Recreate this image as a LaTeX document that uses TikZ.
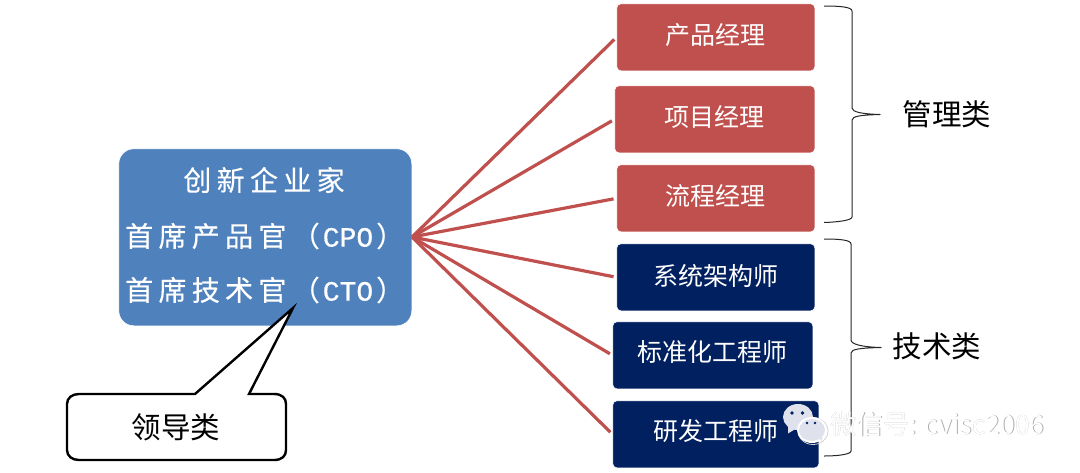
\documentclass[tikz,border=0pt]{standalone}
\usepackage{fontspec}
\setmainfont{Noto Sans CJK SC}
\newfontfamily\hubfont[LetterSpace=19,FakeBold=0.4]{Noto Sans CJK SC}
\newfontfamily\hublatin[FakeBold=0.6]{Liberation Mono}
\definecolor{hubblue}{HTML}{4F81BD}
\definecolor{redbox}{HTML}{C0504D}
\definecolor{navybox}{HTML}{002060}
\definecolor{bubble}{HTML}{DFE2EC}
\tikzset{
  x=1pt,y=-1pt,
  rolebox/.style={draw=white,line width=0.6pt,rounded corners=4pt,text=white,font=\fontsize{25}{25}\selectfont,inner sep=0pt,anchor=north west,minimum height=67pt,text height=22pt,text depth=8pt},
  redrole/.style={rolebox,fill=redbox},
  navyrole/.style={rolebox,fill=navybox},
  link/.style={draw=redbox,line width=3.2pt,shorten >=3pt},
  bracket/.style={draw=black!85,line width=1pt,line join=round},
  classlabel/.style={font=\fontsize{29.5}{29.5}\selectfont,text=black,inner sep=0pt},
  hubline/.style={font=\fontsize{28}{28}\hubfont,text=white,inner sep=0pt},
  mark text/.style={font=\fontsize{26.5}{26.5}\selectfont,inner sep=0pt,anchor=west},
}
\begin{document}
\begin{tikzpicture}
\useasboundingbox (0,0) rectangle (1080,472);
\node[rolebox,fill=hubblue,rounded corners=15pt,minimum width=293pt,minimum height=177pt] (hub) at (118.5,148.5) {};
\coordinate (hubtip) at (412,237);
\node[redrole,minimum width=198pt] (p1) at (616.5,3.5) {产品经理};
\node[redrole,minimum width=200pt] (p2) at (614.5,85.5) {项目经理};
\node[redrole,minimum width=198pt] (p3) at (616.5,164.5) {流程经理};
\node[navyrole,minimum width=198pt,text depth=6pt] (t1) at (616.5,243.5) {系统架构师};
\node[navyrole,minimum width=200pt,text depth=10pt] (t2) at (612.5,321.5) {标准化工程师};
\node[navyrole,minimum width=206pt,text depth=10pt] (t3) at (612.5,400.5) {研发工程师};
\foreach \n in {p1,p2,p3,t1,t2,t3} \draw[link] (hubtip) -- (\n.west);
\node[hubline] (h1) at (264,180) {创新企业家};
\node[hubline,anchor=west] (h2) at (125,236) {首席产品官（\hspace{3pt}{\hublatin\fontsize{28}{28}\selectfont CPO}\hspace{3pt}）};
\node[hubline,anchor=west] (h3) at (125,290) {首席技术官（\hspace{3pt}{\hublatin\fontsize{28}{28}\selectfont CTO}\hspace{3pt}）};
\draw[bracket] (824,6) .. controls (840,6) and (852,7) .. (852,11) -- (852,108) .. controls (852,112) and (862,114) .. (880,114.5) .. controls (862,115) and (852,116) .. (852,120) -- (852,217) .. controls (852,220) and (840,222) .. (824,222.5);
\draw[bracket] (824,239) .. controls (840,239) and (851,240) .. (851,244) -- (851,340) .. controls (851,344) and (861,347) .. (881,347.5) .. controls (861,348) and (851,349) .. (851,353) -- (851,451) .. controls (851,454) and (840,456) .. (824,456);
\node[classlabel] (c1) at (947,114) {管理类};
\node[classlabel] (c2) at (937,346) {技术类};
\coordinate (tip) at (293,308);
\draw[black,line width=2.4pt,fill=white,line join=miter] (195,394) -- (tip) -- (249,394) -- (274,394) .. controls (282,394) and (286,398) .. (286,404) -- (286,450) .. controls (286,456) and (282,460) .. (274,460) -- (79,460) .. controls (72,460) and (67,456) .. (67,450) -- (67,404) .. controls (67,398) and (72,394) .. (79,394) -- cycle;
\node[classlabel] (lead) at (176,427) {领导类};
% watermark
\draw[gray!35,line width=0.8pt] (813,431) ellipse (15 and 13.5);
\fill[bubble] (798,417) ellipse (15 and 13);
\fill[bubble] (788,427) -- (788,433.5) -- (797,428) -- cycle;
\fill[white] (812,430) ellipse (15 and 13);
\fill[bubble] (812,430) ellipse (13 and 11);
\fill[bubble] (819,438) -- (822,441.5) -- (822,436) -- cycle;
\fill[navybox] (792,413) circle (1.8);
\fill[navybox] (802.5,413) circle (1.8);
\fill[navybox] (807,423) circle (1.4);
\fill[navybox] (815,423) circle (1.4);
\node[mark text,text=gray!65] (wms) at (830.7,424.7) {微信号: cvisc2006};
\node[mark text,text=white] (wm) at (830,424) {微信号: cvisc2006};
\end{tikzpicture}
\end{document}
